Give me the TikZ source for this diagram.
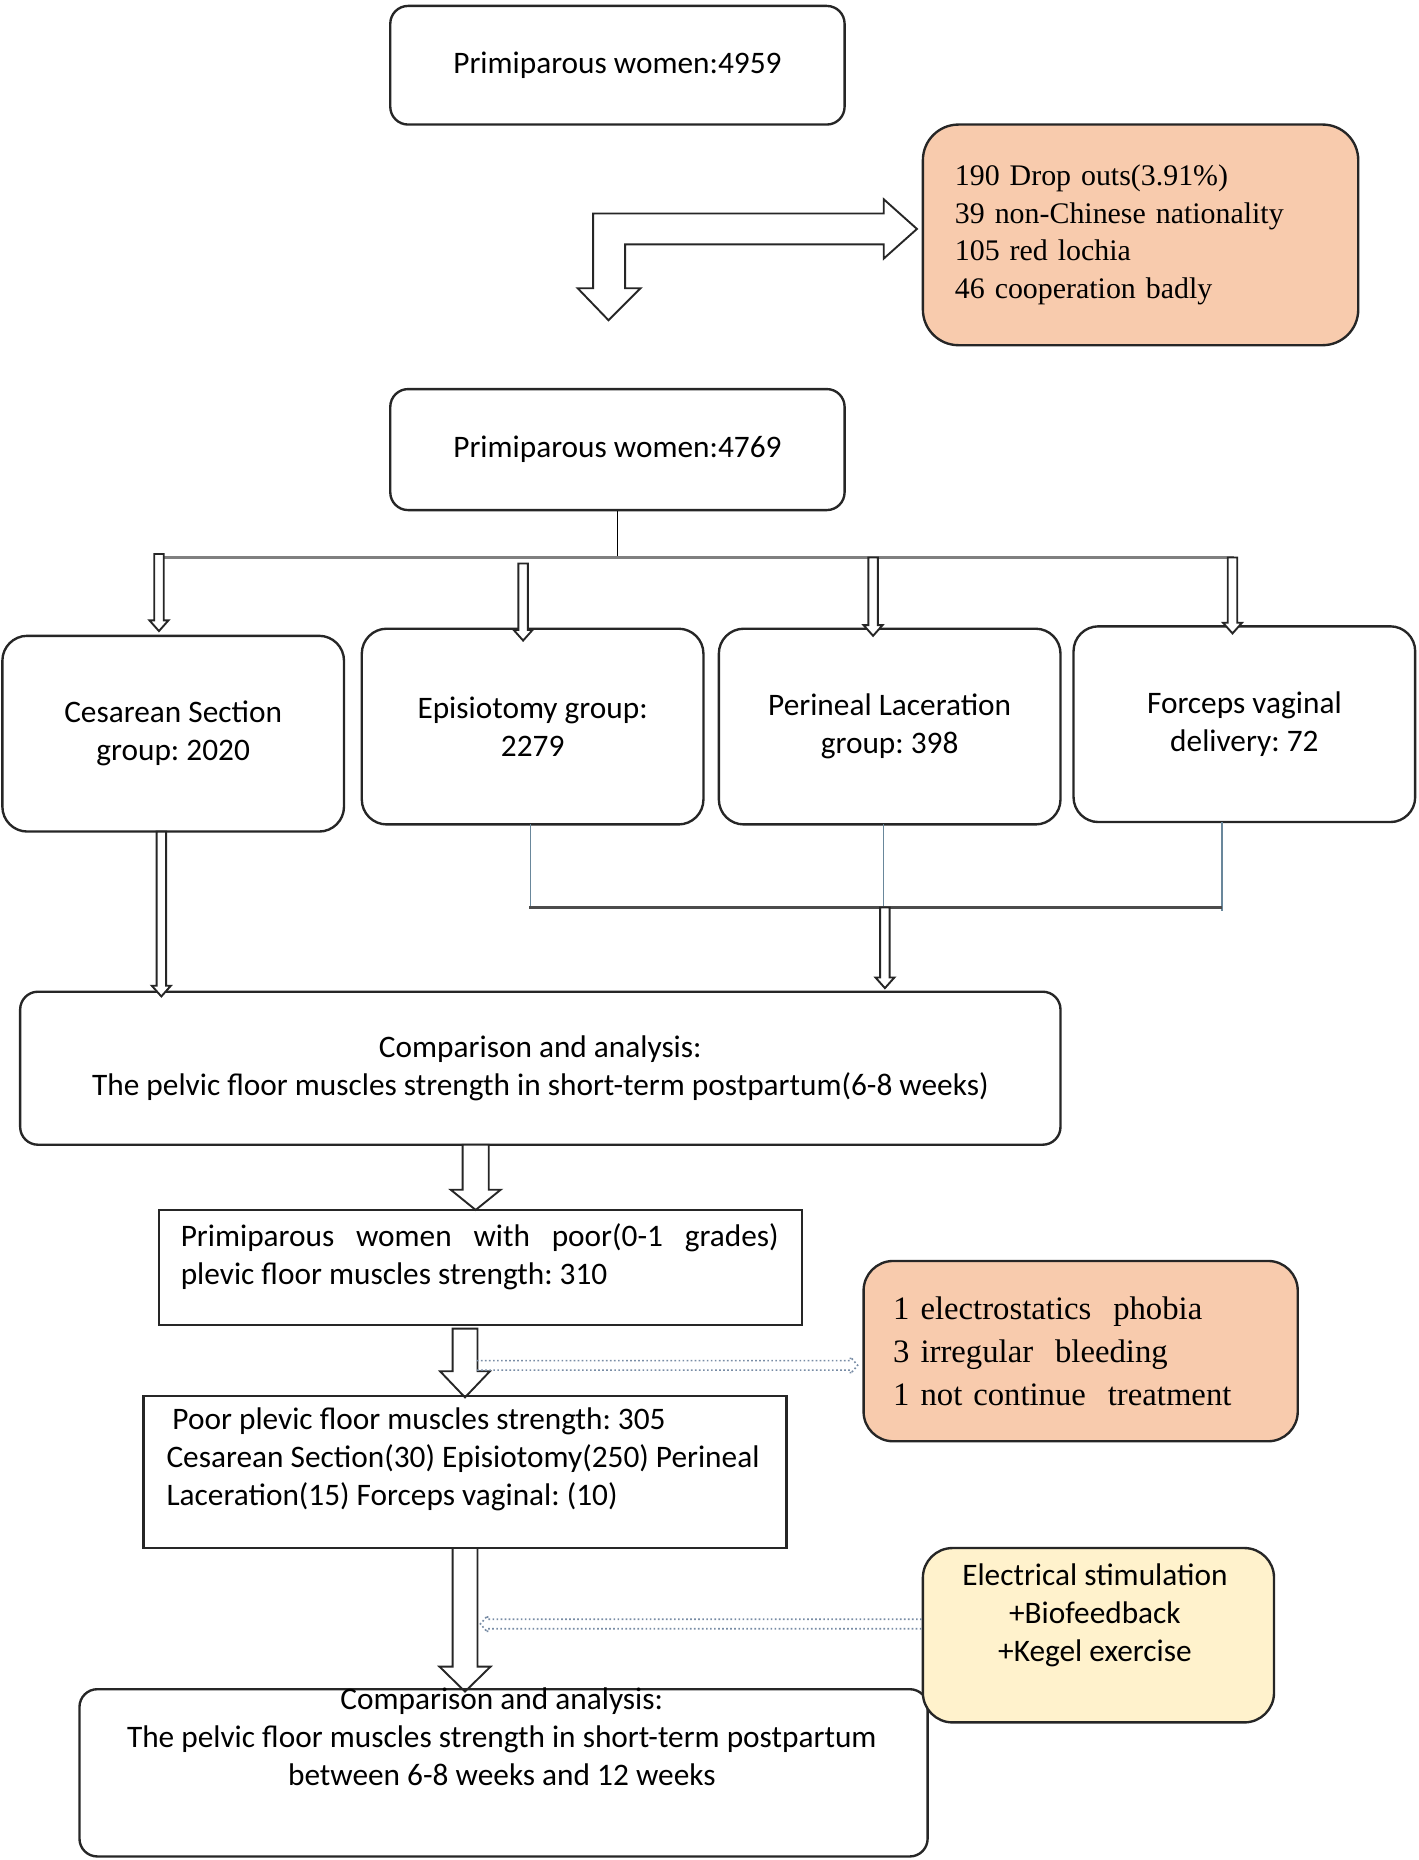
\documentclass[tikz,border=0pt]{standalone}
\usepackage{fontspec}
\setmainfont{Carlito}
\newfontfamily\serifx{Liberation Serif}
\newcommand\fsz{\fontsize{13.2}{16}\selectfont}
\newcommand\fserif{\serifx\fontsize{12.6}{16}\selectfont}
\newcommand\fserifb{\serifx\fontsize{13.8}{18}\selectfont}
\definecolor{peach}{HTML}{F8CBAD}
\definecolor{lightyel}{HTML}{FFF2CC}
\definecolor{bluish}{RGB}{105,135,155}
\definecolor{dotcol}{RGB}{120,140,165}
\newcommand\vblk[6]{\draw[blk] ({#1-#4},{-(#2)}) -- ({#1+#4},{-(#2)}) -- ({#1+#4},{-(#3)+#6}) -- ({#1+#5},{-(#3)+#6}) -- (#1,{-(#3)}) -- ({#1-#5},{-(#3)+#6}) -- ({#1-#4},{-(#3)+#6}) -- cycle;}
\newcommand\vthin[3]{\vblk{#1}{#2}{#3}{4}{8}{9}}
\frenchspacing
\begin{document}
\frenchspacing
\begin{tikzpicture}[x=0.5pt,y=0.5pt,
  box/.style={draw=black!85, line width=1pt, rounded corners=7.5pt, font=\fsz, align=center, inner sep=0pt},
  sqbox/.style={draw=black!85, line width=1pt, inner sep=0pt},
  blk/.style={draw=black!85, line width=0.8pt, fill=white, line join=miter},
  dotarr/.style={draw=dotcol, densely dotted, line width=0.7pt},
  txt/.style={font=\fsz, align=left, inner sep=0pt}]
\useasboundingbox (0,0) rectangle (1196,-1568);

% top boxes
\node[box, minimum width=191.5pt, minimum height=50pt] (A) at (520.5,-55) {Primiparous women:4959};
\node[box, fill=peach, rounded corners=15pt, minimum width=183.5pt, minimum height=93pt, text width=156.5pt, align=left, font=\fserif] (O1) at (961.5,-198)
  {190 Drop outs(3.91\%)\\39 non-Chinese nationality\\105 red lochia\\46 cooperation badly};
% bent block arrow
\draw[blk] (773,-193) -- (745,-168) -- (745,-180) -- (500,-180) -- (500,-243) -- (487,-243) -- (513,-270) -- (540,-243) -- (527,-243) -- (527,-206) -- (745,-206) -- (745,-218) -- cycle;

\node[box, minimum width=191.5pt, minimum height=51pt] (B) at (520.5,-379) {Primiparous women:4769};

% bus
\coordinate (busT) at (520.5,-470);
\draw[line width=0.6pt] (B.south) -- (busT);
\draw[black!50, line width=1.6pt] (136,-470) -- (1040,-470);

% group boxes
\node[box, rounded corners=10.5pt, minimum width=144pt, minimum height=82.5pt] (C) at (146,-618.5) {Cesarean Section\\group: 2020};
\node[box, rounded corners=10.5pt, minimum width=144pt, minimum height=82.5pt] (D) at (449,-612.5) {Episiotomy group:\\2279};
\node[box, rounded corners=10.5pt, minimum width=144pt, minimum height=82.5pt] (E) at (750,-612.5) {Perineal Laceration\\group: 398};
\node[box, rounded corners=10.5pt, minimum width=144pt, minimum height=82.5pt] (F) at (1049,-610.5) {Forceps vaginal\\delivery: 72};

\vthin{134}{467}{532}
\vthin{441}{475}{540}
\vthin{736}{470}{536}
\vthin{1039}{470}{534}

% lower connectors
\draw[bluish, line width=0.6pt] (447,-695) -- (447,-765);
\draw[bluish, line width=0.6pt] (745,-695) -- (745,-765);
\draw[bluish, line width=0.6pt] (1030,-693) -- (1030,-768);
\draw[black!70, line width=1.3pt] (446,-765) -- (1030,-765);

\node[box, minimum width=438.5pt, minimum height=64.5pt] (G) at (455.5,-900.5)
  {Comparison and analysis:\\The pelvic floor muscles strength in short-term postpartum(6-8 weeks)};
\vthin{746}{765}{833}
\vthin{136}{701}{840}

\vblk{401}{965}{1020}{11}{21}{17}

\node[sqbox, minimum width=271pt, minimum height=48.5pt] (H) at (405,-1068.5) {};
\node[txt, anchor=north west] (Ht) at (152,-1031)
  {\hbox to 252pt{Primiparous\hfill women\hfill with\hfill poor(0-1\hfill grades)}\\plevic floor muscles strength: 310};

\vblk{392}{1120}{1178}{10.5}{21}{22}

\node[sqbox, minimum width=271pt, minimum height=64pt] (I) at (392,-1241) {};
\node[txt, anchor=north west] (It) at (140,-1186)
  {\hspace{2.5pt}Poor plevic floor muscles strength: 305\\Cesarean Section(30) Episiotomy(250) Perineal\\Laceration(15) Forceps vaginal: (10)};

\node[box, fill=peach, rounded corners=12.5pt, minimum width=183pt, minimum height=76pt, text width=158pt, align=left, font=\fserifb] (O2) at (911,-1139)
  {1 electrostatics\ \ phobia\\3 irregular\ \ bleeding\\1 not continue\ \ treatment};

\draw[dotarr] (402,-1147) -- (717,-1147) -- (717,-1144) -- (723,-1151) -- (717,-1158) -- (717,-1155) -- (402,-1155);

\vblk{392}{1305}{1426}{10.5}{21.5}{21}

\node[box, minimum width=357.5pt, minimum height=70.5pt] (J) at (424.5,-1494.5) {};
\node[font=\fsz, align=center, inner sep=0pt] (Jt) at (423,-1464)
  {Comparison and analysis:\\The pelvic floor muscles strength in short-term postpartum\\between 6-8 weeks and 12 weeks};

\node[box, fill=lightyel, rounded corners=12.5pt, minimum width=148pt, minimum height=73.5pt] (K) at (926,-1378.5) {};
\node[font=\fsz, align=center, inner sep=0pt] (Kt) at (923,-1362) {Electrical stimulation\\+Biofeedback\\+Kegel exercise};

\draw[dotarr] (K.west |- 0,-1365) -- (411,-1365) -- (411,-1362) -- (405,-1369) -- (411,-1376) -- (411,-1373) -- (K.west |- 0,-1373);
\end{tikzpicture}
\end{document}
